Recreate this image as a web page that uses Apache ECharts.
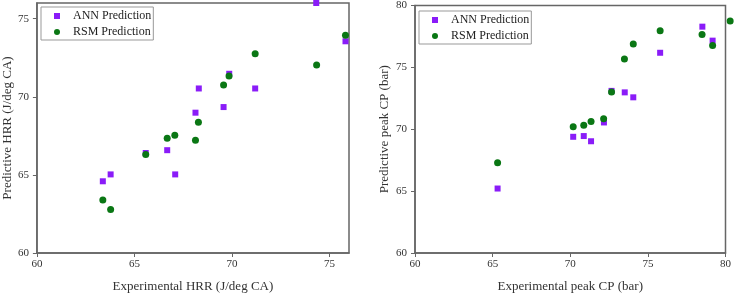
<!DOCTYPE html>
<html>
<head>
<meta charset="utf-8">
<script src="https://cdn.jsdelivr.net/npm/echarts@6/dist/echarts.min.js"></script>
<style>
html,body{margin:0;padding:0;background:#fff;}
#c{width:734px;height:298px;}
</style>
</head>
<body>
<div id="c"></div>
<script>
// Left panel: HRR
const hrrAnnX = [74.32, 75.82, 69.86, 68.30, 71.19, 69.57, 68.13, 66.68, 65.58, 67.09, 63.78, 63.38];
const hrrAnnY = [76.00, 73.55, 71.47, 70.53, 70.53, 69.34, 68.98, 66.58, 66.40, 65.03, 65.03, 64.59];
const hrrRsmX = [75.82, 74.34, 71.19, 69.85, 69.57, 68.28, 67.07, 66.68, 68.13, 65.58, 63.38, 63.78];
const hrrRsmY = [73.94, 72.04, 72.75, 71.33, 70.76, 68.37, 67.54, 67.35, 67.22, 66.30, 63.39, 62.78];
// Right panel: peak CP
const cpAnnX = [78.51, 79.17, 75.79, 72.66, 73.51, 74.06, 72.17, 70.19, 70.87, 71.34, 65.32];
const cpAnnY = [78.29, 77.16, 76.18, 73.10, 72.98, 72.58, 70.55, 69.39, 69.45, 69.03, 65.21];
const cpRsmX = [78.49, 79.17, 75.79, 74.06, 73.49, 72.66, 72.15, 71.34, 70.87, 70.19, 65.32, 80.30];
const cpRsmY = [77.66, 76.76, 77.95, 76.89, 75.68, 73.02, 70.84, 70.63, 70.32, 70.21, 67.29, 78.75];

const leftTicks = [60, 65, 70, 75];
const rightTicks = [60, 65, 70, 75, 80];
const seriesNames = ['ANN Prediction', 'RSM Prediction'];

const zip = (xs, ys) => xs.map((x, i) => [x, ys[i]]);

const FONT = '"Liberation Serif", "Times New Roman", serif';
const AX = '#666';
const PURPLE = '#8a1cf8';
const GREEN = '#0a7714';

function axis(idx, min, max, ticks, name, isY, gap) {
  return {
    type: 'value', gridIndex: idx, min: min, max: max, interval: 5,
    name: name, nameLocation: 'middle', nameGap: gap,
    nameTextStyle: {fontFamily: FONT, fontSize: 13, color: '#333'},
    splitLine: {show: false},
    axisLine: {show: true, onZero: false, lineStyle: {color: AX, width: 1.5}},
    axisTick: {show: true, length: 4, inside: false, customValues: ticks, lineStyle: {color: AX, width: 1}},
    axisLabel: {customValues: ticks, fontFamily: FONT, fontSize: 11, color: '#333', margin: isY ? 8 : 6}
  };
}

function legend(idx, left, top) {
  return {
    orient: 'vertical', left: left, top: top,
    data: [{name: seriesNames[0], icon: 'rect'}, {name: seriesNames[1], icon: 'circle'}],
    itemWidth: 6, itemHeight: 6, itemGap: 4,
    borderColor: '#999', borderWidth: 1, borderRadius: 0,
    padding: [3, 2, 2, 13],
    textStyle: {fontFamily: FONT, fontSize: 12, color: '#222', padding: [0, 0, 0, 8]}
  };
}

const chart = echarts.init(document.getElementById('c'));
chart.setOption({
  animation: false,
  backgroundColor: '#fff',
  grid: [
    {left: 35, top: 3, width: 314, height: 254, show: true, borderColor: AX, borderWidth: 1.5, backgroundColor: 'transparent'},
    {left: 415, top: 5, width: 314, height: 252, show: true, borderColor: AX, borderWidth: 1.5, backgroundColor: 'transparent'}
  ],
  xAxis: [
    axis(0, 60, 76, leftTicks, 'Experimental HRR (J/deg CA)', false, 27),
    axis(1, 60, 80, rightTicks, 'Experimental peak CP (bar)', false, 27)
  ],
  yAxis: [
    axis(0, 60, 76, leftTicks, 'Predictive HRR (J/deg CA)', true, 22),
    axis(1, 60, 80, rightTicks, 'Predictive peak CP (bar)', true, 24)
  ],
  legend: [legend(0, 41, 7), legend(1, 419, 11)],
  series: [
    {name: seriesNames[0], type: 'scatter', xAxisIndex: 0, yAxisIndex: 0, symbol: 'rect', symbolSize: 6, itemStyle: {color: PURPLE, opacity: 1}, data: zip(hrrAnnX, hrrAnnY)},
    {name: seriesNames[1], type: 'scatter', xAxisIndex: 0, yAxisIndex: 0, symbol: 'circle', symbolSize: 7, itemStyle: {color: GREEN, opacity: 1}, data: zip(hrrRsmX, hrrRsmY)},
    {name: seriesNames[0], type: 'scatter', xAxisIndex: 1, yAxisIndex: 1, symbol: 'rect', symbolSize: 6, itemStyle: {color: PURPLE, opacity: 1}, data: zip(cpAnnX, cpAnnY)},
    {name: seriesNames[1], type: 'scatter', xAxisIndex: 1, yAxisIndex: 1, clip: false, symbol: 'circle', symbolSize: 7, itemStyle: {color: GREEN, opacity: 1}, data: zip(cpRsmX, cpRsmY)}
  ]
});
</script>
</body>
</html>
